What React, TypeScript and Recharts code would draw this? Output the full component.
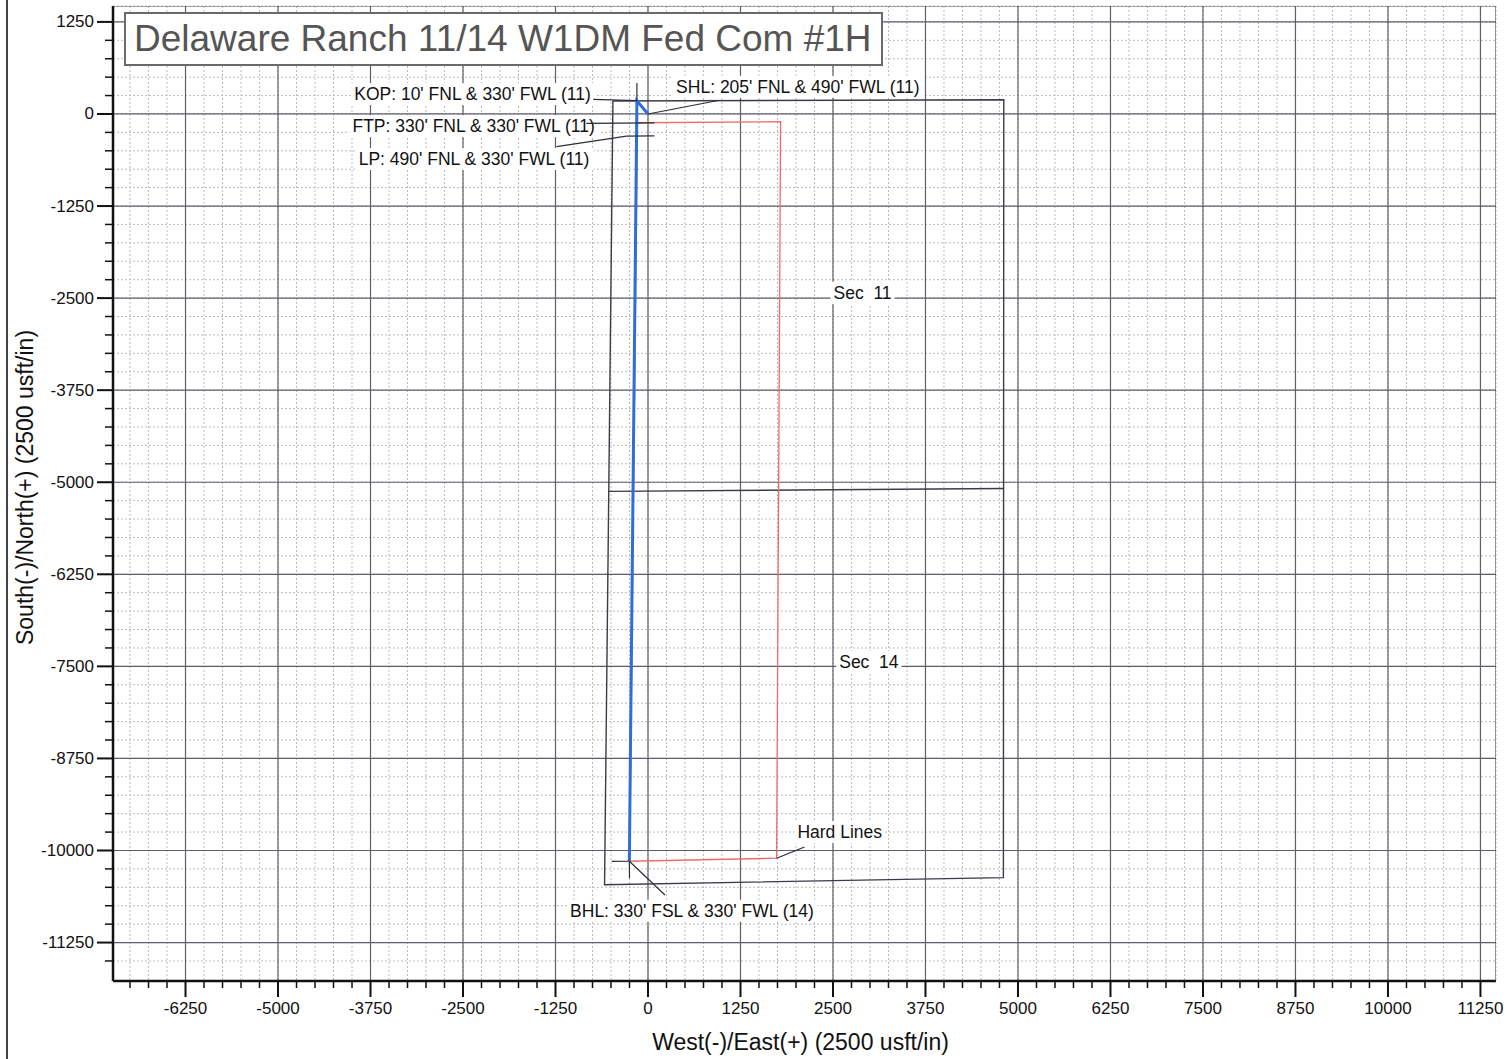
import React from 'react';
import { ScatterChart, Scatter, XAxis, YAxis, CartesianGrid, Label } from 'recharts';

const FONT = '"Liberation Sans", Arial, Helvetica, sans-serif';

// ---------- axes ----------
const xDomain: [number, number] = [-7230, 11460];
const yDomain: [number, number] = [-11772, 1466];
const xMajorTicks = [-6250, -5000, -3750, -2500, -1250, 0, 1250, 2500, 3750, 5000, 6250, 7500, 8750, 10000, 11250];
const yMajorTicks = [1250, 0, -1250, -2500, -3750, -5000, -6250, -7500, -8750, -10000, -11250];
const minorStep = 250;
const xMinorStart = -7000;
const xMinorEnd = 11250;
const yMinorStart = -11500;
const yMinorEnd = 1250;

function stepList(a: number, b: number, s: number) {
  const out: number[] = [];
  for (let v = a; v <= b; v += s) out.push(v);
  return out;
}
const xMinorTicks = stepList(xMinorStart, xMinorEnd, minorStep);
const yMinorTicks = stepList(yMinorStart, yMinorEnd, minorStep);

// ---------- data (usft, West(-)/East(+), South(-)/North(+)) ----------
const wellPath = [
  { x: 0, y: 0 },
  { x: -150, y: 180 },
  { x: -252, y: -10146 },
];
const hardLines = [
  { x: -144, y: -119 },
  { x: 1792, y: -105 },
  { x: 1738, y: -10105 },
  { x: -248, y: -10146 },
  { x: -144, y: -119 },
];
const sectionOutline = [
  { x: -474, y: 177 },
  { x: 4808, y: 194 },
  { x: 4803, y: -10368 },
  { x: -587, y: -10465 },
  { x: -474, y: 177 },
];
const sectionDivider = [
  { x: -527, y: -5124 },
  { x: 4800, y: -5085 },
];
const frameTop = [
  { x: xDomain[0], y: yDomain[1] },
  { x: xDomain[1], y: yDomain[1] },
];
const frameRight = [
  { x: xDomain[1], y: yDomain[1] },
  { x: xDomain[1], y: yDomain[0] },
];

// marker ticks and leader lines
const kopTick = [{ x: -150, y: 180 }, { x: -150, y: 420 }];
const kopLeader = [{ x: -740, y: 198 }, { x: -150, y: 180 }];
const shlLeader = [{ x: 948, y: 183 }, { x: 0, y: 0 }];
const ftpLeader = [{ x: -833, y: -128 }, { x: 86, y: -122 }];
const lpTick = [{ x: -291, y: -301 }, { x: 87, y: -298 }];
const lpLeader = [{ x: -1236, y: -444 }, { x: -291, y: -301 }];
const bhlTickH = [{ x: -491, y: -10148 }, { x: -252, y: -10146 }];
const bhlTickV = [{ x: -252, y: -10146 }, { x: -250, y: -10377 }];
const bhlLeader = [{ x: -252, y: -10146 }, { x: 229, y: -10605 }];
const hardLinesLeader = [{ x: 1738, y: -10105 }, { x: 2115, y: -9953 }];

const annotations = [
  { x: -3970, y: 270, text: "KOP: 10' FNL & 330' FWL (11)" },
  { x: 380, y: 369, text: "SHL: 205' FNL & 490' FWL (11)" },
  { x: -3994, y: -165, text: "FTP: 330' FNL & 330' FWL (11)" },
  { x: -3910, y: -612, text: "LP: 490' FNL & 330' FWL (11)" },
  { x: 2507, y: -2430, text: 'Sec  11' },
  { x: 2584, y: -7440, text: 'Sec  14' },
  { x: 2019, y: -9750, text: 'Hard Lines' },
  { x: -1053, y: -10818, text: "BHL: 330' FSL & 330' FWL (14)" },
];

const title = 'Delaware Ranch 11/14 W1DM Fed Com #1H';
const xTitle = 'West(-)/East(+) (2500 usft/in)';
const yTitle = 'South(-)/North(+) (2500 usft/in)';

// ---------- helpers ----------
const LABEL_SIZE = 17.5;
let ctx: CanvasRenderingContext2D | null = null;
function textWidth(t: string, size: number) {
  if (!ctx) ctx = document.createElement('canvas').getContext('2d');
  if (!ctx) return t.length * size * 0.5;
  ctx.font = `${size}px "Liberation Sans", Arial, sans-serif`;
  return ctx.measureText(t).width;
}

const NoShape = () => <g />;

const AnnotationShape = (props: any) => {
  const { cx, cy, payload } = props;
  const w = textWidth(payload.text, LABEL_SIZE);
  return (
    <g>
      <rect x={cx - 3} y={cy - 11} width={w + 6} height={22} fill="#fff" />
      <text
        x={cx}
        y={cy}
        dominantBaseline="central"
        fontSize={LABEL_SIZE}
        fontFamily={FONT}
        fill="#111"
        style={{ whiteSpace: 'pre' }}
      >
        {payload.text}
      </text>
    </g>
  );
};

const XTick = (props: any) => {
  const { x, y, payload } = props;
  const major = payload.value % 1250 === 0;
  return (
    <g>
      <line x1={x} y1={y} x2={x} y2={y + (major ? 16 : 7)} stroke="#111" strokeWidth={major ? 2 : 1.5} />
      {major && (
        <text x={x} y={y + 27} textAnchor="middle" dominantBaseline="central" fontSize={17} fontFamily={FONT} fill="#111">
          {payload.value}
        </text>
      )}
    </g>
  );
};

const YTick = (props: any) => {
  const { x, y, payload } = props;
  const major = payload.value % 1250 === 0;
  return (
    <g>
      <line x1={x} y1={y} x2={x - (major ? 16 : 8)} y2={y} stroke="#111" strokeWidth={major ? 2 : 1.5} />
      {major && (
        <text x={x - 19} y={y} textAnchor="end" dominantBaseline="central" fontSize={17} fontFamily={FONT} fill="#111">
          {payload.value}
        </text>
      )}
    </g>
  );
};

const XTitle = (props: any) => {
  const vb = props.viewBox || {};
  return (
    <text x={vb.x + vb.width / 2 - 4} y={vb.y + 61} textAnchor="middle" dominantBaseline="central" fontSize={23} fontFamily={FONT} fill="#111">
      {xTitle}
    </text>
  );
};

const YTitle = (props: any) => {
  const vb = props.viewBox || {};
  const cx = 25;
  const cy = vb.y + vb.height / 2 - 6;
  return (
    <text x={cx} y={cy} transform={`rotate(-90 ${cx} ${cy})`} textAnchor="middle" dominantBaseline="central" fontSize={23} fontFamily={FONT} fill="#111">
      {yTitle}
    </text>
  );
};

const SECTION = '#3b3b4a';
const MARK = '#2e2e36';

const lineSeries = (data: any[], stroke: string, strokeWidth: number, key: string) => (
  <Scatter
    key={key}
    data={data}
    line={{ stroke, strokeWidth }}
    shape={NoShape}
    isAnimationActive={false}
    legendType="none"
  />
);

export default function App() {
  return (
    <div style={{ position: 'absolute', left: 0, top: 0, width: 1507, height: 1059, background: '#fff', overflow: 'hidden' }}>
      <div style={{ position: 'absolute', left: 6, top: 0, width: 1.5, height: 1059, background: '#444' }} />
      <ScatterChart width={1507} height={1059} margin={{ top: 6, right: 11, bottom: 8, left: 0 }}>
        <CartesianGrid stroke="#bcbcbc" strokeDasharray="2 2" strokeWidth={1} />
        <CartesianGrid stroke="#5e5e6c" strokeWidth={1.2} verticalValues={xMajorTicks} horizontalValues={yMajorTicks} />
        <XAxis
          type="number"
          dataKey="x"
          domain={xDomain}
          allowDataOverflow
          ticks={xMinorTicks}
          interval={0}
          tickSize={0}
          tickMargin={0}
          tick={<XTick />}
          height={70}
          axisLine={{ stroke: '#111', strokeWidth: 2.5 }}
        >
          <Label content={<XTitle />} />
        </XAxis>
        <YAxis
          type="number"
          dataKey="y"
          domain={yDomain}
          allowDataOverflow
          ticks={yMinorTicks}
          interval={0}
          tickSize={0}
          tickMargin={0}
          tick={<YTick />}
          width={113}
          axisLine={{ stroke: '#111', strokeWidth: 2.5 }}
        >
          <Label content={<YTitle />} />
        </YAxis>
        {lineSeries(frameTop, '#555', 1.2, 'ft')}
        {lineSeries(frameRight, '#555', 1.2, 'fr')}
        {lineSeries(sectionOutline, SECTION, 1.4, 'so')}
        {lineSeries(sectionDivider, SECTION, 1.4, 'sd')}
        {lineSeries(hardLines, '#f06a6a', 1.3, 'hl')}
        <Scatter data={annotations} shape={AnnotationShape} isAnimationActive={false} legendType="none" />
        {lineSeries(wellPath, '#2c6fdc', 3, 'wp')}
        {lineSeries(kopTick, MARK, 1.2, 'k1')}
        {lineSeries(kopLeader, MARK, 1.2, 'k2')}
        {lineSeries(shlLeader, MARK, 1.2, 's1')}
        {lineSeries(ftpLeader, MARK, 1.2, 'f1')}
        {lineSeries(lpTick, MARK, 1.2, 'l1')}
        {lineSeries(lpLeader, MARK, 1.2, 'l2')}
        {lineSeries(bhlTickH, MARK, 1.2, 'b1')}
        {lineSeries(bhlTickV, MARK, 1.2, 'b2')}
        {lineSeries(bhlLeader, MARK, 1.2, 'b3')}
        {lineSeries(hardLinesLeader, MARK, 1.2, 'h1')}
      </ScatterChart>
      <div
        style={{
          position: 'absolute',
          left: 124,
          top: 12,
          width: 759,
          height: 54,
          boxSizing: 'border-box',
          border: '2px solid #6a6a6a',
          background: '#fff',
          color: '#555',
          fontFamily: FONT,
          fontSize: 37,
          lineHeight: '50px',
          paddingLeft: 8,
          whiteSpace: 'nowrap',
        }}
      >
        {title}
      </div>
    </div>
  );
}
